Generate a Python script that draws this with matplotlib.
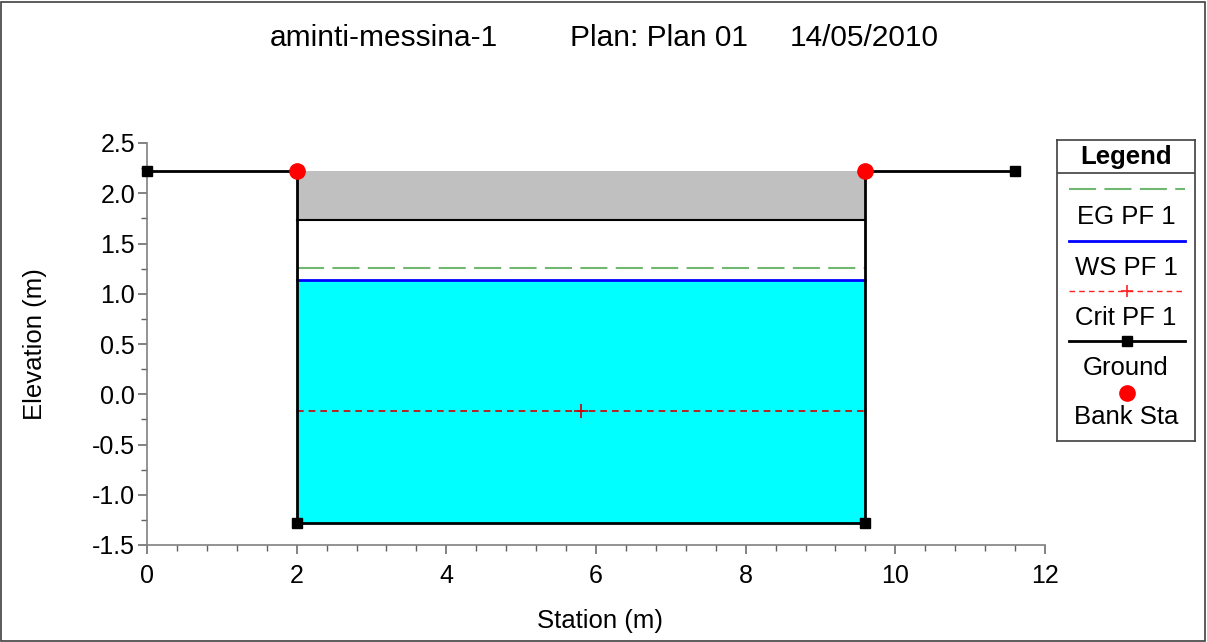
import numpy as np
import matplotlib.pyplot as plt
from matplotlib.patches import Rectangle
from matplotlib.lines import Line2D

plt.rcParams['font.family'] = ['Liberation Sans', 'DejaVu Sans']

# cross-section geometry
ground_x = [0, 2, 2, 9.6, 9.6, 11.6]
ground_y = [2.22, 2.22, -1.28, -1.28, 2.22, 2.22]
bank_x = [2, 9.6]
bank_y = [2.22, 2.22]
deck_low = 1.73
deck_high = 2.22

# profile results
eg_pf1 = 1.256
ws_pf1 = 1.137
crit_pf1 = -0.17
crit_x = [2, 5.8, 9.6]

W, H = 1207, 642
fig = plt.figure(figsize=(W / 100, H / 100), dpi=100)
ax = fig.add_axes([147 / W, 1 - 545 / H, (1045 - 147) / W, (545 - 143) / H])

# water area and deck
ax.fill_between([2, 9.6], -1.28, ws_pf1, color='#00ffff', lw=0, zorder=1)
ax.fill_between([2, 9.6], deck_low, deck_high, color='#c0c0c0', lw=0, zorder=1)
ax.plot([2, 9.6], [deck_low, deck_low], color='black', lw=1.5, zorder=2)

ax.plot([2, 9.6], [eg_pf1, eg_pf1], color='#70b870', lw=1.5,
        dashes=(13, 4), zorder=3)
ax.plot([2, 9.6], [ws_pf1, ws_pf1], color='#0000ff', lw=2, zorder=3)
ax.plot(crit_x, [crit_pf1] * 3, color='#d40000', lw=1.2, dashes=(4, 3),
        marker='+', ms=10, mew=1.2, markevery=[1], zorder=3)
ax.plot(crit_x, [crit_pf1] * 3, ls='none', color='#d40000',
        marker='|', ms=4, mew=1.0, markevery=[0, 2], zorder=3)

ax.plot(ground_x, ground_y, color='black', lw=2, marker='s', ms=7,
        zorder=4, clip_on=False)
ax.plot(bank_x, bank_y, ls='none', marker='o', color='#ff0000', ms=11,
        zorder=5, clip_on=False)

ax.set_xlim(0, 12)
ax.set_ylim(-1.5, 2.5)
ax.set_xticks(np.arange(0, 13, 2))
ax.set_xticks(np.arange(0, 12.01, 0.4), minor=True)
ax.set_yticks(np.arange(-1.5, 2.51, 0.5))
ax.set_yticks(np.arange(-1.5, 2.51, 0.25), minor=True)
ax.set_yticklabels([f'{v:.1f}' for v in np.arange(-1.5, 2.51, 0.5)])
for s in ['top', 'right']:
    ax.spines[s].set_visible(False)
for s in ['left', 'bottom']:
    ax.spines[s].set_color('#808080')
    ax.spines[s].set_linewidth(1.2)
ax.tick_params(which='major', length=6.5, width=1.1, color='#606060',
               labelsize=18, pad=2)
ax.tick_params(axis='x', which='major', pad=7)
ax.tick_params(which='minor', length=4.3, width=1, color='#606060')
ax.set_xlabel('Station (m)', fontsize=18.5, va='center')
ax.set_ylabel('Elevation (m)', fontsize=18.5, va='center')
ax.xaxis.set_label_coords((600 - 147) / 898, (545 - 621) / 402)
ax.yaxis.set_label_coords((35 - 147) / 898, 0.5)

# title pieces
for xp, txt in [(270, 'aminti-messina-1'), (570, 'Plan: Plan 01'),
                (790, '14/05/2010')]:
    fig.text(xp / W, 1 - 38 / H, txt, ha='left', va='center', fontsize=21.5)

# legend panel
lg = fig.add_axes([1057 / W, 1 - 441 / H, (1195 - 1057) / W, (441 - 140) / H])
lg.set_xlim(0, 138)
lg.set_ylim(441, 140)
lg.set_xticks([])
lg.set_yticks([])
for s in lg.spines.values():
    s.set_color('#404040')
    s.set_linewidth(1.2)
lg.axhline(173, color='#404040', lw=1.2)
fs = 18.5
lg.text(69, 157, 'Legend', ha='center', va='center', fontsize=fs,
        fontweight='bold')
lg.add_line(Line2D([12, 128], [189, 189], color='#70b870', lw=1.5,
                   dashes=(13, 4)))
lg.text(69, 217, 'EG PF 1', ha='center', va='center', fontsize=fs)
lg.add_line(Line2D([12, 128], [241, 241], color='#0000ff', lw=2))
lg.text(69, 268, 'WS PF 1', ha='center', va='center', fontsize=fs)
lg.add_line(Line2D([12, 70, 128], [291, 291, 291], color='#ff2020', lw=1.0,
                   dashes=(4, 3), marker='+', ms=8, mew=1.2, markevery=[1]))
lg.text(69, 318, 'Crit PF 1', ha='center', va='center', fontsize=fs)
lg.add_line(Line2D([12, 70, 128], [341, 341, 341], color='black', lw=2,
                   marker='s', ms=7, markevery=[1]))
lg.text(69, 368, 'Ground', ha='center', va='center', fontsize=fs)
lg.add_line(Line2D([70], [393], ls='none', marker='o', color='#ff0000', ms=11))
lg.text(69, 417, 'Bank Sta', ha='center', va='center', fontsize=fs)

# outer frame
fig.add_artist(Rectangle((1 / W, 1 / H), 1 - 3 / W, 1 - 3 / H,
                         transform=fig.transFigure, fill=False,
                         edgecolor='#404040', lw=1.2))

fig.savefig('out.png', dpi=100)
